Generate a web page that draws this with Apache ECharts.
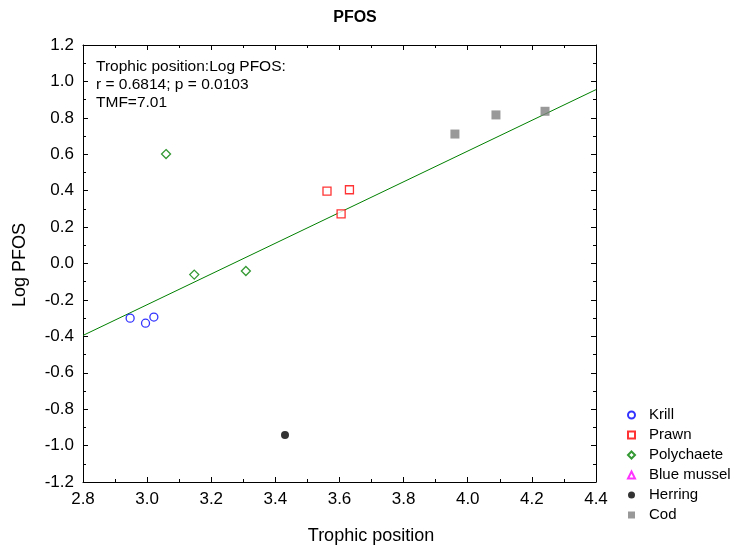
<!DOCTYPE html>
<html>
<head>
<meta charset="utf-8">
<script src="https://cdn.jsdelivr.net/npm/echarts@6/dist/echarts.min.js"></script>
<style>html,body{margin:0;padding:0;background:#fff}#c{width:734px;height:550px}</style>
</head>
<body>
<div id="c"></div>
<script>
var krill = [[2.947, -0.300], [2.995, -0.328], [3.021, -0.294]];
var prawn = [[3.561, 0.398], [3.631, 0.405], [3.605, 0.273]];
var polychaete = [[3.059, 0.601], [3.147, -0.061], [3.308, -0.041]];
var blueMussel = [];
var herring = [[3.430, -0.942]];
var cod = [[3.960, 0.711], [4.088, 0.816], [4.241, 0.836]];
var fitLine = [[2.8, -0.395], [4.4, 0.955]];
var annotation = ['Trophic position:Log PFOS:', 'r = 0.6814; p = 0.0103', 'TMF=7.01'];
var legendNames = ['Krill', 'Prawn', 'Polychaete', 'Blue mussel', 'Herring', 'Cod'];

var font = 'Liberation Sans, Arial, sans-serif';
var RECT = 'path://M0,0L10,0L10,10L0,10Z';
var DIAMOND = 'path://M5,0L10,5L5,10L0,5Z';
var TRI = 'path://M5,0L10,10L0,10Z';
var legendIcons = ['circle', RECT, DIAMOND, TRI, 'circle', RECT];

var chart = echarts.init(document.getElementById('c'), null, {renderer: 'canvas'});
function axisCommon(show) {
  return {
    axisLine: {show: true, onZero: false, lineStyle: {color: '#000', width: 1}},
    axisTick: {show: true, inside: true, length: 5, lineStyle: {color: '#000'}},
    minorTick: {show: true, splitNumber: 2, length: 3, lineStyle: {color: '#000'}},
    splitLine: {show: false},
    axisLabel: {show: show, color: '#000', fontSize: 17, fontFamily: font, margin: 9,
      formatter: function (v) { return (Math.abs(v) < 1e-9 ? 0 : v).toFixed(1); }}
  };
}
var xb = Object.assign({type: 'value', min: 2.8, max: 4.4, interval: 0.2, position: 'bottom'}, axisCommon(true));
var xt = Object.assign({type: 'value', min: 2.8, max: 4.4, interval: 0.2, position: 'top'}, axisCommon(false));
var yl = Object.assign({type: 'value', min: -1.2, max: 1.2, interval: 0.2, position: 'left'}, axisCommon(true));
var yr = Object.assign({type: 'value', min: -1.2, max: 1.2, interval: 0.2, position: 'right'}, axisCommon(false));

chart.setOption({
  animation: false,
  backgroundColor: '#fff',
  grid: {left: 83, right: 138, top: 45, bottom: 68},
  xAxis: [xb, xt],
  yAxis: [yl, yr],
  legend: {
    orient: 'vertical', left: 627, top: 406, padding: 0, itemGap: 2, itemWidth: 7, itemHeight: 7,
    symbolKeepAspect: true,
    textStyle: {fontSize: 15, fontFamily: font, color: '#000', lineHeight: 18, padding: [0, 0, 0, 9]},
    data: legendNames.map(function (n, i) { return {name: n, icon: legendIcons[i]}; })
  },
  graphic: [
    {type: 'text', x: 355, y: 18, style: {text: 'PFOS', font: 'bold 16px ' + font, fill: '#000', align: 'center', verticalAlign: 'middle'}},
    {type: 'text', x: 96, y: 58, style: {text: annotation.join('\n'), font: '15.5px ' + font, lineHeight: 18, fill: '#000'}},
    {type: 'text', x: 371, y: 536, style: {text: 'Trophic position', font: '18px ' + font, fill: '#000', align: 'center', verticalAlign: 'middle'}},
    {type: 'text', x: 20, y: 265, rotation: Math.PI / 2, style: {text: 'Log PFOS', font: '18px ' + font, fill: '#000', align: 'center', verticalAlign: 'middle'}}
  ],
  series: [
    {name: 'fit', type: 'line', data: fitLine, symbol: 'none', lineStyle: {color: '#008000', width: 1}, silent: true, z: 1},
    {name: 'Krill', type: 'scatter', data: krill, symbol: 'circle', symbolSize: 8,
      itemStyle: {color: '#fff', borderColor: '#0000ff', borderWidth: 1.3}, z: 3},
    {name: 'Prawn', type: 'scatter', data: prawn, symbol: 'rect', symbolSize: 8,
      itemStyle: {color: '#fff', borderColor: '#ff0000', borderWidth: 1.3}, z: 3},
    {name: 'Polychaete', type: 'scatter', data: polychaete, symbol: 'diamond', symbolSize: 9,
      itemStyle: {color: '#fff', borderColor: '#008000', borderWidth: 1.3}, z: 3},
    {name: 'Blue mussel', type: 'scatter', data: blueMussel, symbol: 'triangle', symbolSize: 8,
      itemStyle: {color: '#fff', borderColor: '#ff00ff', borderWidth: 1.3}, z: 3},
    {name: 'Herring', type: 'scatter', data: herring, symbol: 'circle', symbolSize: 8,
      itemStyle: {color: '#000'}, z: 3},
    {name: 'Cod', type: 'scatter', data: cod, symbol: 'rect', symbolSize: 9,
      itemStyle: {color: '#808080'}, z: 3}
  ]
});
</script>
</body>
</html>
